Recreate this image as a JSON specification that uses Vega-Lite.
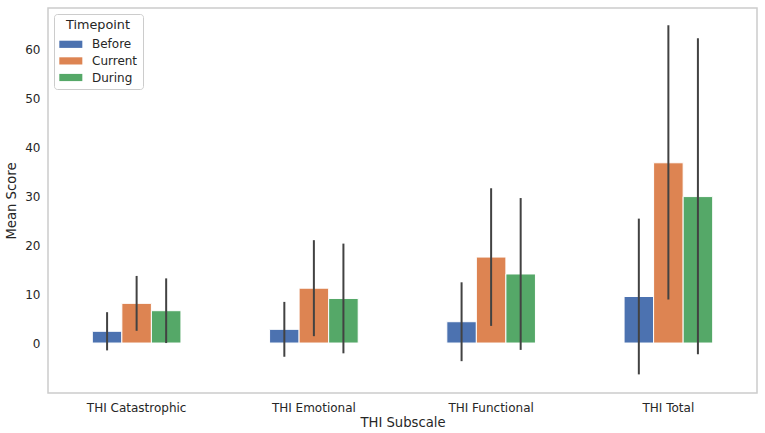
{
  "$schema": "https://vega.github.io/schema/vega-lite/v6.json",
  "width": 709,
  "height": 385,
  "autosize": "none",
  "padding": {"left": 48, "top": 8, "right": 8, "bottom": 40},
  "background": "white",
  "config": {
    "font": "DejaVu Sans",
    "view": {"stroke": "#cccccc", "strokeWidth": 1.5},
    "axis": {"grid": false, "domain": false, "ticks": false, "labelColor": "#262626", "titleColor": "#262626", "labelFontSize": 12, "titleFontSize": 13.2, "titleFontWeight": "normal"}
  },
  "data": {
    "values": [
      {"subscale": "THI Catastrophic", "timepoint": "Before", "mean": 2.4, "low": -1.5, "high": 6.3},
      {"subscale": "THI Catastrophic", "timepoint": "Current", "mean": 8.1, "low": 2.5, "high": 13.7},
      {"subscale": "THI Catastrophic", "timepoint": "During", "mean": 6.6, "low": 0.0, "high": 13.2},
      {"subscale": "THI Emotional", "timepoint": "Before", "mean": 2.8, "low": -2.8, "high": 8.4},
      {"subscale": "THI Emotional", "timepoint": "Current", "mean": 11.2, "low": 1.4, "high": 21.0},
      {"subscale": "THI Emotional", "timepoint": "During", "mean": 9.1, "low": -2.1, "high": 20.3},
      {"subscale": "THI Functional", "timepoint": "Before", "mean": 4.35, "low": -3.7, "high": 12.4},
      {"subscale": "THI Functional", "timepoint": "Current", "mean": 17.55, "low": 3.5, "high": 31.6},
      {"subscale": "THI Functional", "timepoint": "During", "mean": 14.1, "low": -1.4, "high": 29.6},
      {"subscale": "THI Total", "timepoint": "Before", "mean": 9.5, "low": -6.4, "high": 25.4},
      {"subscale": "THI Total", "timepoint": "Current", "mean": 36.8, "low": 8.9, "high": 64.9},
      {"subscale": "THI Total", "timepoint": "During", "mean": 29.9, "low": -2.3, "high": 62.2}
    ]
  },
  "encoding": {
    "x": {
      "field": "subscale", "type": "nominal", "title": "THI Subscale",
      "scale": {"paddingInner": 0.5, "paddingOuter": 0.25},
      "axis": {"labelAngle": 0, "labelPadding": 9, "titlePadding": 3}
    },
    "xOffset": {"field": "timepoint", "type": "nominal", "scale": {"paddingInner": 0, "paddingOuter": 0}}
  },
  "layer": [
    {
      "mark": {"type": "bar", "stroke": "white", "strokeWidth": 1},
      "encoding": {
        "y": {
          "field": "mean", "type": "quantitative", "title": "Mean Score",
          "scale": {"domain": [-10.2, 68.4], "nice": false, "zero": false},
          "axis": {"values": [0, 10, 20, 30, 40, 50, 60], "labelPadding": 8, "titlePadding": 6}
        },
        "color": {
          "field": "timepoint", "type": "nominal", "title": "Timepoint",
          "scale": {"domain": ["Before", "Current", "During"], "range": ["#4C72B0", "#DD8452", "#55A868"]},
          "legend": {
            "orient": "none", "legendX": 6, "legendY": 6,
            "padding": 5, "strokeColor": "#cccccc", "fillColor": "white", "cornerRadius": 3,
            "symbolType": "M-1,-0.5H2.2V0.5H-1Z", "symbolSize": 207, "symbolStrokeWidth": 0, "symbolOpacity": 1,
            "labelFontSize": 12, "labelColor": "#262626", "labelOffset": 18,
            "titleFontSize": 12.8, "titleFontWeight": "normal", "titleColor": "#262626", "titlePadding": 5,
            "titleAnchor": "middle",
            "rowPadding": 2.6
          }
        }
      }
    },
    {
      "mark": {"type": "rule", "color": "#424242", "strokeWidth": 2},
      "encoding": {
        "y": {"field": "low", "type": "quantitative"},
        "y2": {"field": "high"}
      }
    }
  ]
}
